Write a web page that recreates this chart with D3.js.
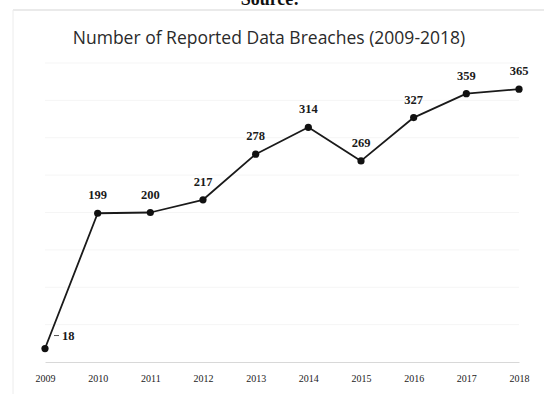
<!DOCTYPE html>
<html>
<head>
<meta charset="utf-8">
<script src="https://cdn.jsdelivr.net/npm/d3@7/dist/d3.min.js"></script>
<style>
  html, body { margin: 0; padding: 0; background: #fff; }
  svg { display: block; }
</style>
</head>
<body>
<svg id="chart" width="544" height="394"></svg>
<script>
// Reported data breaches per year
const years = ["2009", "2010", "2011", "2012", "2013", "2014", "2015", "2016", "2017", "2018"];
const breaches = [18, 199, 200, 217, 278, 314, 269, 327, 359, 365];
const gridTicks = [50, 100, 150, 200, 250, 300, 350, 400];

const svg = d3.select("#chart");

const x = d3.scalePoint().domain(years).range([45, 519]);
const y = d3.scaleLinear().domain([0, 400]).range([362, 63]);

// Frame edges
svg.append("line").attr("x1", 13).attr("x2", 544).attr("y1", 10).attr("y2", 10)
  .attr("stroke", "#d6d6d6").attr("stroke-width", 1.2);
svg.append("line").attr("x1", 13).attr("x2", 13).attr("y1", 10).attr("y2", 394)
  .attr("stroke", "#ececec").attr("stroke-width", 1);

// Heading above the frame
svg.append("text").attr("x", 270).attr("y", 5)
  .attr("text-anchor", "middle")
  .style("font-family", "'Liberation Serif', serif").style("font-weight", "bold")
  .style("font-size", "18px").attr("fill", "#111").text("Source:");

// Title
svg.append("text").attr("x", 269).attr("y", 44)
  .attr("text-anchor", "middle")
  .style("font-family", "'Open Sans', sans-serif")
  .style("font-size", "17.5px").attr("fill", "#2a2a2a")
  .text("Number of Reported Data Breaches (2009-2018)");

// Horizontal gridlines
svg.append("g").selectAll("line").data(gridTicks).join("line")
  .attr("x1", 45).attr("x2", 519)
  .attr("y1", d => y(d)).attr("y2", d => y(d))
  .attr("stroke", "#f5f5f5").attr("stroke-width", 1);

// Category axis
const xAxis = svg.append("g").attr("transform", `translate(0,${y(0)})`)
  .call(d3.axisBottom(x).tickSize(0).tickPadding(13));
xAxis.select(".domain").attr("stroke", "#d8d8d8").attr("stroke-width", 1);
xAxis.selectAll("text")
  .style("font-family", "'Liberation Serif', serif")
  .style("font-size", "10px").attr("fill", "#222");

// Series line
const line = d3.line().x((d, i) => x(years[i])).y(d => y(d));
svg.append("path").datum(breaches)
  .attr("d", line).attr("fill", "none")
  .attr("stroke", "#1a1a1a").attr("stroke-width", 1.8)
  .attr("stroke-linejoin", "round");

// Markers
svg.append("g").selectAll("circle").data(breaches).join("circle")
  .attr("cx", (d, i) => x(years[i])).attr("cy", d => y(d))
  .attr("r", 3.6).attr("fill", "#111");

// Value labels
const labels = svg.append("g")
  .style("font-family", "'Liberation Serif', serif")
  .style("font-weight", "bold").style("font-size", "12.5px").attr("fill", "#1a1a1a");
labels.selectAll("text").data(breaches).join("text")
  .attr("x", (d, i) => i === 0 ? x(years[i]) + 17 : x(years[i]))
  .attr("y", (d, i) => i === 0 ? y(d) - 9 : y(d) - 14)
  .attr("text-anchor", (d, i) => i === 0 ? "start" : "middle")
  .text(d => d);

// Leader for the first label
svg.append("line")
  .attr("x1", x(years[0]) + 9).attr("x2", x(years[0]) + 14)
  .attr("y1", y(breaches[0]) - 13).attr("y2", y(breaches[0]) - 13)
  .attr("stroke", "#555").attr("stroke-width", 1);
</script>
</body>
</html>
